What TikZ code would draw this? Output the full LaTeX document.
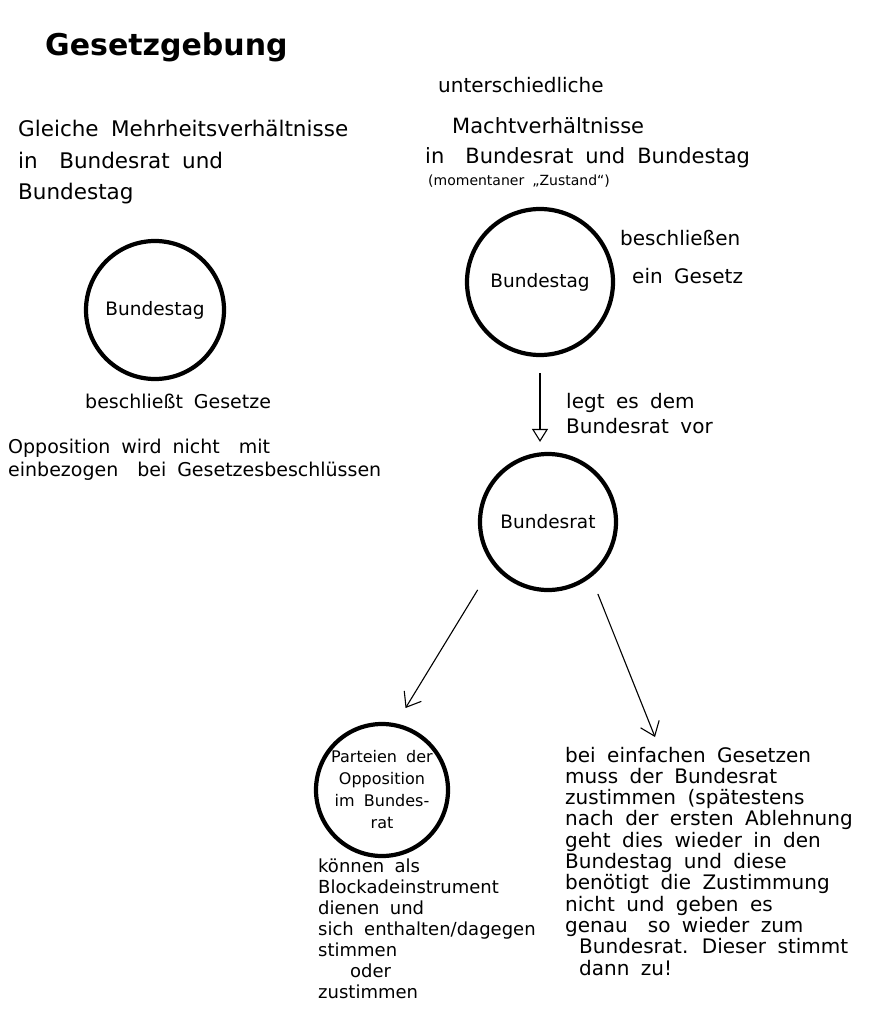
\documentclass[tikz,border=0pt]{standalone}
\usepackage{fontspec}
\setmainfont{DejaVu Sans}[WordSpace=1.8]
\usetikzlibrary{arrows.meta,positioning}

\begin{document}
\begin{tikzpicture}[x=1pt, y=-1pt,
    organ/.style={circle, draw, line width=4.2pt, inner sep=0pt,
                  font=\fontsize{18.5}{22}\selectfont},
    % base west = baseline of the last line
    note/.style={anchor=base west, align=left, inner sep=0pt,
                 font=\fontsize{20}{22}\selectfont},
    flow/.style={line width=1.1pt, -{Straight Barb[length=13pt, width=20pt]}}
]
\fill[white] (0,0) rectangle (874,1024);
\useasboundingbox (0,0) rectangle (874,1024);

% Title
\node[anchor=base west, inner sep=0pt, font=\fontsize{30}{34}\selectfont\bfseries]
    (title) at (45,56) {Gesetzgebung};

% Left: gleiche Mehrheiten
\node[note, font=\fontsize{21.5}{31.5}\selectfont] (gleich) at (18,200)
    {Gleiche Mehrheitsverhältnisse\\in\quad Bundesrat und\\Bundestag};
\node[organ, minimum size=138pt] (tagL) at (155,310) {Bundestag};
\node[note, font=\fontsize{19}{22}\selectfont] (beschlL) at (85,408) {beschließt Gesetze};
\node[note, font=\fontsize{19}{23}\selectfont] (oppoL) at (8,476)
    {Opposition wird nicht\quad mit\\einbezogen\quad bei Gesetzesbeschlüssen};

% Right: unterschiedliche Mehrheiten
\node[note] (unter) at (438,93) {unterschiedliche};
\node[note, font=\fontsize{21}{22}\selectfont] (macht) at (452,134) {Machtverhältnisse};
\node[note, font=\fontsize{21}{22}\selectfont] (inBR) at (425,164)
    {in\quad Bundesrat und Bundestag};
\node[note, font=\fontsize{14}{16}\selectfont] (zustand) at (428,186)
    {(momentaner „Zustand“)};

\node[organ, minimum size=146pt] (tagR) at (540,282) {Bundestag};
\node[note, font=\fontsize{20}{38}\selectfont] (beschlR) at (620,283)
    {beschließen\\\hspace*{12pt}ein Gesetz};

\node[organ, minimum size=136pt] (rat) at (548,522) {Bundesrat};
\draw[line width=1.1pt, -{Triangle[open, length=13pt, width=16pt]},
      shorten <=16pt, shorten >=10pt] (tagR) -- (tagR |- rat.north);
\node[note, font=\fontsize{20}{25}\selectfont] (vorlegen) at (566,433)
    {legt es dem\\Bundesrat vor};

% Opposition im Bundesrat
\node[organ, minimum size=132pt, align=center,
      font=\fontsize{16}{22}\selectfont] (oppo) at (382,790)
    {Parteien der\\Opposition\\im Bundes-\\rat};
\node[note, font=\fontsize{18}{21}\selectfont] (block) at (318,998)
    {können als\\Blockadeinstrument\\dienen und\\sich enthalten/dagegen\\stimmen\\\hspace*{32pt}oder\\zustimmen};
\draw[flow, shorten <=29pt, shorten >=18pt] (rat.218) -- (oppo.78);

% einfache Gesetze
\coordinate (einfach) at (655,737);
\node[note, font=\fontsize{20}{21.3}\selectfont] (einspruch) at (565,975)
    {bei einfachen Gesetzen\\muss der Bundesrat\\zustimmen (spätestens\\nach der ersten Ablehnung\\geht dies wieder in den\\Bundestag und diese\\benötigt die Zustimmung\\nicht und geben es\\genau\quad so wieder zum\\\hspace*{14pt}Bundesrat. Dieser stimmt\\\hspace*{14pt}dann zu!};
\draw[flow, shorten <=18pt] (rat.308) -- (einfach);

\end{tikzpicture}
\end{document}
